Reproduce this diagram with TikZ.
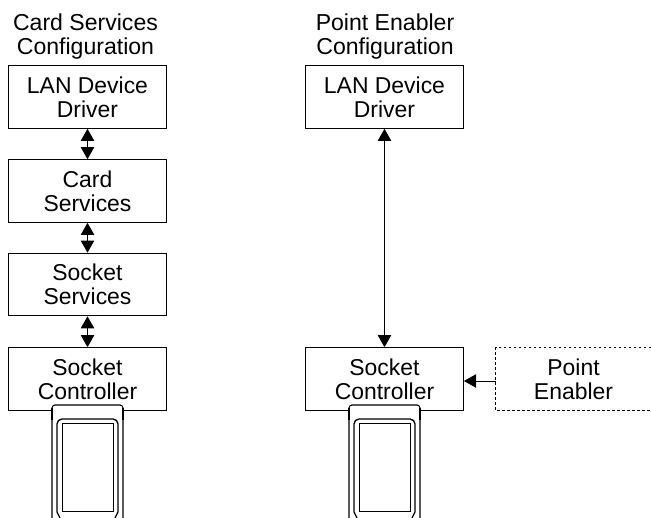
\documentclass[tikz,border=0pt]{standalone}
\usepackage{fontspec}
\setmainfont{Liberation Sans}
\usetikzlibrary{arrows.meta}
\tikzset{x=0.75pt,y=-0.75pt,
  blocktext/.style={inner sep=0pt,align=center,minimum height=47pt,font=\fontsize{17.2}{18}\selectfont},
  blockbox/.style={blocktext,draw,line width=0.75pt,minimum width=118.5pt},
  headtext/.style={align=center,font=\fontsize{17.3}{18}\selectfont},
  link/.style={line width=0.6pt,{Triangle[length=9pt,width=10pt]}-{Triangle[length=9pt,width=10pt]}}}
\newcommand{\pccard}[1]{%
  \begin{scope}[xshift=#1*0.75pt]
  \fill[white] (0,518) -- (0,408) -- (2,405) -- (69,405) -- (71,408) -- (71,518) -- cycle ;
  \draw[line width=0.8pt] (0,518) -- (0,408) arc (180:270:3) -- (68,405) arc (270:360:3) -- (71,518) ;
  \draw[line width=1.3pt] (0,408) -- (0,420) ;
  \draw[line width=1.3pt] (71,408) -- (71,420) ;
  \draw[line width=1pt] (5,512) -- (5,424) arc (180:270:5) -- (61,419) arc (270:360:5) -- (66,512) -- (63,518) ;
  \draw[line width=1pt] (5,512) -- (8,518) ;
  \draw[line width=0.6pt] (10,511) -- (10,423) -- (61,423) -- (61,511) -- cycle ;
  \end{scope}}
\begin{document}
\begin{tikzpicture}
  \useasboundingbox (0,0) rectangle (651,518);
  % left column
  \node[headtext] (hdleft) at (85.5,37) {Card Services\\Configuration};
  \node[blockbox] (lanleft) at (87.5,97) {LAN Device\\Driver};
  \node[blockbox] (cardsvc) at (87.5,191) {Card\\Services};
  \node[blockbox] (socksvc) at (87.5,284.5) {Socket\\Services};
  \node[blockbox] (ctlleft) at (87.5,379) {Socket\\Controller};
  \draw[link] (lanleft) -- (cardsvc);
  \draw[link] (cardsvc) -- (socksvc);
  \draw[link] (socksvc) -- (ctlleft);
  % right column
  \node[headtext] (hdright) at (385,37) {Point Enabler\\Configuration};
  \node[blockbox] (lanright) at (384.5,97) {LAN Device\\Driver};
  \node[blockbox] (ctlright) at (384.5,379) {Socket\\Controller};
  \node[blocktext,minimum width=116.25pt] (enabler) at (573.5,379) {Point\\Enabler};
  \draw[line width=0.75pt,dash pattern=on 2pt off 1.75pt] (enabler.north east) -- (enabler.north west) -- (enabler.south west) -- (enabler.south east) ;
  \draw[link] (lanright) -- (ctlright);
  \draw[line width=0.6pt,-{Triangle[length=9pt,width=10pt]}] ([yshift=-1.5pt]enabler.west) -- ([yshift=-1.5pt]ctlright.east);
  % cards
  \pccard{52}
  \pccard{349}
\end{tikzpicture}
\end{document}
